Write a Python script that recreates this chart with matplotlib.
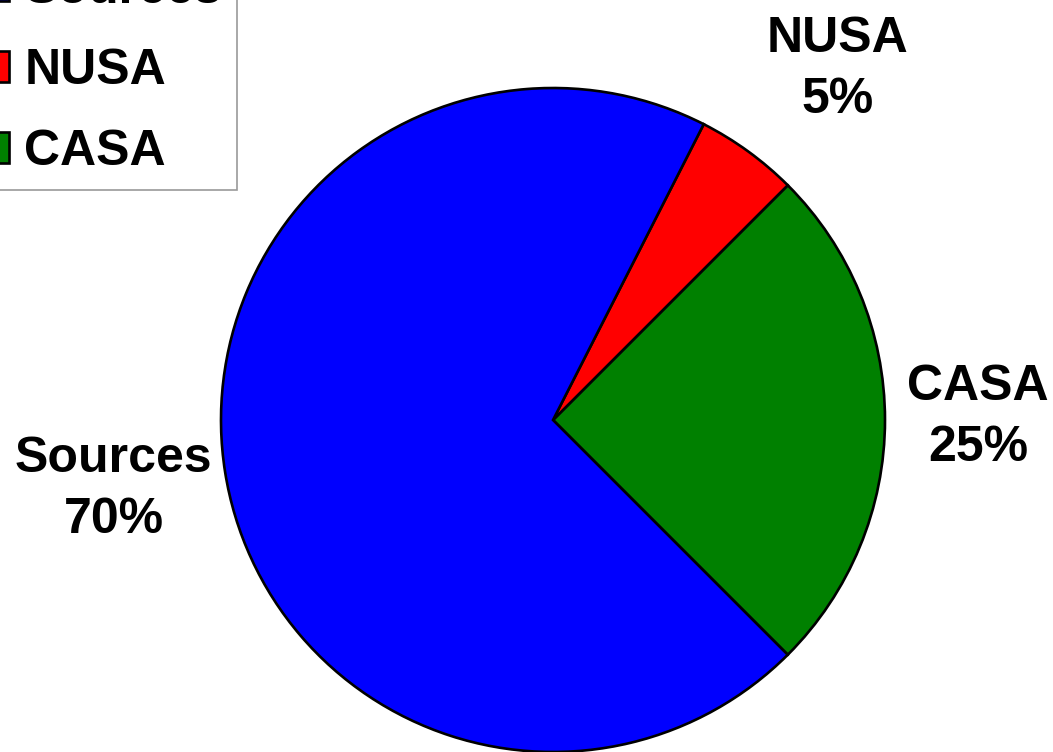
import matplotlib.pyplot as plt
import numpy as np
from matplotlib.patches import Patch

# slices listed counterclockwise from the lower right edge
names = ['CASA', 'NUSA', 'Sources']
shares = [25, 5, 70]
colors = ['#008000', '#FF0000', '#0000FF']
legend_order = ['Sources', 'NUSA', 'CASA']

plt.rcParams['font.family'] = ['Liberation Sans', 'DejaVu Sans']
plt.rcParams['font.weight'] = 'bold'

fig = plt.figure(figsize=(10.53, 7.52), dpi=100)
cx, cy, r = 553, 420, 332
ax = fig.add_axes([(cx - r) / 1053, (752 - cy - r) / 752, 2 * r / 1053, 2 * r / 752])

wedges, _ = ax.pie(shares, colors=colors, startangle=-45, counterclock=True,
                   wedgeprops=dict(edgecolor='black', linewidth=1.9))
ax.set_xlim(-1, 1)
ax.set_ylim(-1, 1)
ax.set_aspect('equal')

# label distance per slice (outside the pie)
dists = {'CASA': 1.28, 'NUSA': 1.36, 'Sources': 1.34}
shift = {'CASA': 0.3, 'NUSA': -3, 'Sources': 0}
for w, name, val in zip(wedges, names, shares):
    mid = np.deg2rad((w.theta1 + w.theta2) / 2 + shift[name])
    d = dists[name]
    ax.text(d * np.cos(mid), d * np.sin(mid), f'{name}\n{val}%',
            ha='center', va='center', fontsize=36, fontweight='bold',
            linespacing=1.42, clip_on=False)

handles = []
for lab in legend_order:
    c = colors[names.index(lab)]
    handles.append(Patch(facecolor=c, edgecolor='black', linewidth=1.9))
leg = fig.legend(handles, legend_order, loc='lower right',
                 bbox_to_anchor=(237 / 1053, 1 - 190 / 752),
                 bbox_transform=fig.transFigure, fontsize=36,
                 handlelength=0.35, handleheight=0.6, handletextpad=0.3,
                 labelspacing=0.70, borderpad=0.30, borderaxespad=0,
                 frameon=True, fancybox=False)
leg.get_frame().set_edgecolor('#808080')
leg.get_frame().set_linewidth(1.2)

fig.savefig('out.png', dpi=100)
